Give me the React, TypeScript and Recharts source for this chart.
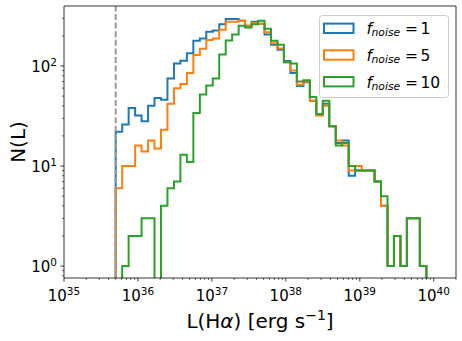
import React from "react";
import { ComposedChart, Line, XAxis, YAxis, ReferenceLine, Legend, Label } from "recharts";

// log10 of the bin edges, L(Halpha) in erg/s
const binEdges = [
  35.699, 35.787, 35.874, 35.962, 36.049, 36.137, 36.224, 36.312, 36.399, 36.487,
  36.574, 36.662, 36.749, 36.837, 36.924, 37.012, 37.099, 37.187, 37.274, 37.362,
  37.449, 37.537, 37.624, 37.712, 37.799, 37.887, 37.974, 38.062, 38.149, 38.237,
  38.325, 38.412, 38.5, 38.587, 38.675, 38.762, 38.85, 38.937, 39.025, 39.112,
  39.2, 39.287, 39.375, 39.462, 39.55, 39.637, 39.725, 39.812, 39.9,
];

const nNoise1 = [
  22, 26, 38, 32, 28, 40, 48, 46, 75, 106, 113, 134, 179, 188, 220, 226, 261, 295, 295, 284,
  253, 277, 265, 207, 163, 145, 112, 85, 63, 69, 45, 33, 42, 25, 17, 18, 8, 9, 9, 9,
  7, 4, 1, 2, 1, 3, 3, 1,
];
const nNoise5 = [
  6, 10, 10, 16, 14, 18, 15, 23, 42, 60, 66, 85, 129, 149, 182, 188, 231, 277, 277, 284,
  253, 271, 265, 217, 169, 150, 109, 90, 65, 70, 45, 32, 40, 25, 18, 16, 9, 10, 9, 9,
  7, 4, 1, 2, 1, 3, 3, 1,
];
const nNoise10 = [
  0, 1, 2, 2, 3, 3, 0, 4, 6, 7, 13, 11, 34, 52, 64, 75, 130, 180, 206, 253,
  242, 261, 284, 236, 179, 163, 109, 106, 70, 72, 49, 33, 45, 25, 16, 17, 10, 9, 9, 9,
  7, 5, 1, 2, 1, 3, 3, 1,
];

const noiseLabels = ["1", "5", "10"];
const lumLimitExp = 35.699;

const BLUE = "#1f77b4";
const ORANGE = "#ff7f0e";
const GREEN = "#2ca02c";
const FONT = "'DejaVu Sans', sans-serif";

const X_DOMAIN = [1e35, 2e40];
const Y_DOMAIN = [0.76, 398];
const FLOOR = 0.1; // empty bins drop below the log axis

const series = [
  { key: "n1", label: noiseLabels[0], color: BLUE, counts: nNoise1 },
  { key: "n5", label: noiseLabels[1], color: ORANGE, counts: nNoise5 },
  { key: "n10", label: noiseLabels[2], color: GREEN, counts: nNoise10 },
];

function buildRows() {
  const rows: Record<string, number>[] = [];
  const row = (edge: number, idx: number | null) => {
    const r: Record<string, number> = { x: 10 ** edge };
    series.forEach((s) => {
      r[s.key] = idx === null ? FLOOR : s.counts[idx] || FLOOR;
    });
    return r;
  };
  const last = nNoise1.length - 1;
  rows.push(row(binEdges[0], null));
  for (let i = 0; i <= last; i++) rows.push(row(binEdges[i], i));
  rows.push(row(binEdges[last + 1], last));
  rows.push(row(binEdges[last + 1], null));
  return rows;
}

function logTicks(minExp: number, maxExp: number, lo: number, hi: number) {
  const out: number[] = [];
  for (let e = minExp; e <= maxExp; e++) {
    for (let m = 1; m <= 9; m++) {
      const v = m * 10 ** e;
      if (v >= lo * 0.999 && v <= hi * 1.001) out.push(v);
    }
  }
  return out;
}

const isMajor = (v: number) => {
  const e = Math.log10(v);
  return Math.abs(e - Math.round(e)) < 1e-6;
};

function XTick(props: any) {
  const { x, y, payload } = props;
  const major = isMajor(payload.value);
  return (
    <g>
      <line x1={x} x2={x} y1={y} y2={y + (major ? 3.5 : 2)} stroke="#000" strokeWidth={major ? 0.8 : 0.6} />
      {major && (
        <text x={x} y={y + 23} textAnchor="middle" fontSize={15} fontFamily={FONT} fill="#000">
          10<tspan dy={-6.5} fontSize={10.5}>{Math.round(Math.log10(payload.value))}</tspan>
        </text>
      )}
    </g>
  );
}

function YTick(props: any) {
  const { x, y, payload } = props;
  const major = isMajor(payload.value);
  return (
    <g>
      <line x1={x - (major ? 3.5 : 2)} x2={x} y1={y} y2={y} stroke="#000" strokeWidth={major ? 0.8 : 0.6} />
      {major && (
        <text x={x - 7} y={y + 6} textAnchor="end" fontSize={15} fontFamily={FONT} fill="#000">
          10<tspan dy={-6.5} fontSize={10.5}>{Math.round(Math.log10(payload.value))}</tspan>
        </text>
      )}
    </g>
  );
}

const renderLegend = () => (
  <svg width={131} height={84} style={{ display: "block" }}>
    <rect x={0.5} y={0.5} width={129} height={82} rx={3} fill="#fff" fillOpacity={0.8} stroke="#cccccc" />
    {series.map((s, i) => {
      const cy = 13.3 + i * 26.7;
      return (
        <g key={s.key}>
          <rect x={5} y={cy - 4.7} width={29.5} height={9.4} fill="none" stroke={s.color} strokeWidth={2} />
          <text y={cy + 5.8} fontSize={15.5} fontFamily={FONT} fill="#000">
            <tspan x={47.5} fontStyle="italic">f</tspan>
            <tspan x={52.5} dy={2} fontSize={10.8} fontStyle="italic">noise</tspan>
            <tspan x={86} dy={-2}>=</tspan>
            <tspan x={101.5}>{s.label}</tspan>
          </text>
        </g>
      );
    })}
  </svg>
);

const XLabel = (props: any) => {
  const { viewBox } = props;
  const cx = viewBox.x + viewBox.width / 2;
  return (
    <text x={cx} y={328} textAnchor="middle" fontSize={20} fontFamily={FONT} fill="#000">
      L(H<tspan fontStyle="italic">α</tspan>) [erg s<tspan dy={-8} fontSize={14}>−1</tspan>
      <tspan dy={8}>]</tspan>
    </text>
  );
};

const YLabel = (props: any) => {
  const { viewBox } = props;
  const cy = viewBox.y + viewBox.height / 2;
  return (
    <text x={25} y={cy} transform={`rotate(-90, 25, ${cy})`} textAnchor="middle" fontSize={20} fontFamily={FONT} fill="#000">
      N(L)
    </text>
  );
};

export default function App() {
  const data = buildRows();
  const xTicks = logTicks(35, 40, X_DOMAIN[0], X_DOMAIN[1]);
  const yTicks = logTicks(-1, 2, Y_DOMAIN[0], Y_DOMAIN[1]);
  const axisLine = { stroke: "#000", strokeWidth: 0.8 };

  return (
    <div style={{ position: "absolute", left: 0, top: 0, width: 462, height: 341, background: "#fff" }}>
      <ComposedChart width={462} height={341} data={data} margin={{ top: 6, right: 6, bottom: 0, left: 0 }}>
        <XAxis
          xAxisId="x"
          dataKey="x"
          type="number"
          scale="log"
          domain={X_DOMAIN}
          allowDataOverflow
          ticks={xTicks}
          interval={0}
          tick={<XTick />}
          tickLine={false}
          tickSize={0}
          tickMargin={0}
          height={63}
          axisLine={axisLine}
        >
          <Label content={<XLabel />} />
        </XAxis>
        <YAxis
          yAxisId="y"
          type="number"
          scale="log"
          domain={Y_DOMAIN}
          allowDataOverflow
          ticks={yTicks}
          interval={0}
          tick={<YTick />}
          tickLine={false}
          tickSize={0}
          tickMargin={0}
          width={64}
          axisLine={axisLine}
        >
          <Label content={<YLabel />} />
        </YAxis>
        {series.map((s) => (
          <Line
            key={s.key}
            xAxisId="x"
            yAxisId="y"
            dataKey={s.key}
            type="stepAfter"
            stroke={s.color}
            strokeWidth={2}
            dot={false}
            activeDot={false}
            isAnimationActive={false}
          />
        ))}
        <ReferenceLine
          xAxisId="x"
          yAxisId="y"
          x={10 ** lumLimitExp}
          stroke="#999999"
          strokeWidth={2}
          strokeDasharray="6 2.6"
        />
        {/* top and right spines */}
        <ReferenceLine xAxisId="x" yAxisId="y" y={Y_DOMAIN[1]} stroke="#000" strokeWidth={0.8} />
        <ReferenceLine xAxisId="x" yAxisId="y" x={X_DOMAIN[1]} stroke="#000" strokeWidth={0.8} />
        <Legend
          content={renderLegend}
          layout="horizontal"
          verticalAlign="middle"
          align="center"
          wrapperStyle={{ left: 319, top: 15, width: 131, height: 84 }}
        />
      </ComposedChart>
    </div>
  );
}
